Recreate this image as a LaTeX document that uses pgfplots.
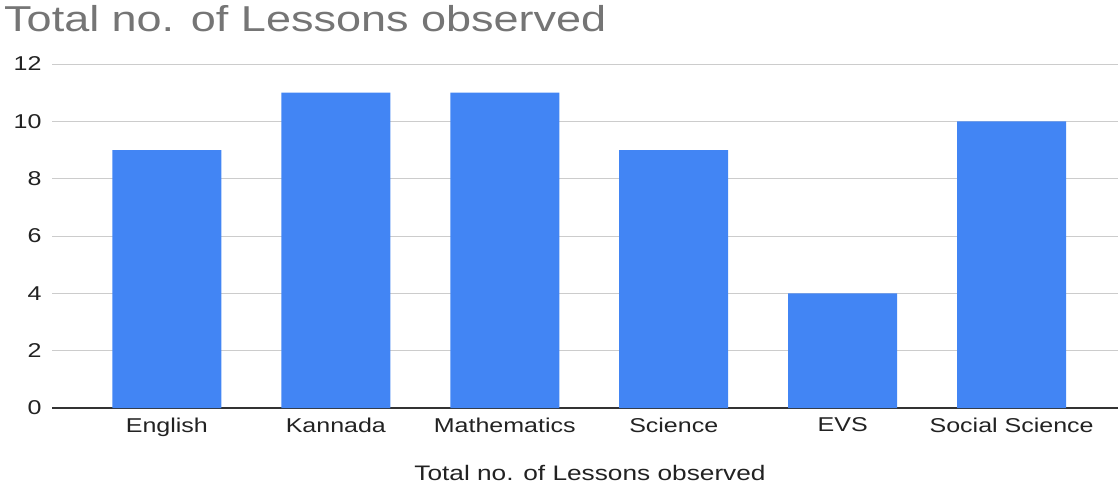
\documentclass[border=0pt]{standalone}
\usepackage{pgfplots}
\pgfplotsset{compat=1.18}
\usepackage{fontspec}
\setmainfont{Liberation Sans}[FakeStretch=1.25]
\definecolor{barblue}{HTML}{4285F4}
\definecolor{titlegray}{HTML}{757575}
\definecolor{gridgray}{HTML}{CCCCCC}
\definecolor{axisdark}{HTML}{333333}
\definecolor{labeldark}{HTML}{222222}
\begin{document}
\begin{tikzpicture}[x=1pt,y=1pt]
\useasboundingbox (0,0) rectangle (1118,488);
\node[anchor=base west, text=titlegray, font=\fontsize{36}{40}\selectfont, inner sep=0pt] at (4,456) {Total no. of Lessons observed};
\begin{axis}[
  at={(52pt,80pt)}, anchor=south west,
  scale only axis, width=1066pt, height=344pt,
  xmin=-0.68, xmax=5.63, ymin=0, ymax=12,
  ytick={0,2,4,6,8,10,12},
  xtick={0,1,2,3,4,5},
  xticklabels={English,Kannada,Mathematics,Science,EVS,Social Science},
  axis lines*=left,
  x axis line style={draw=axisdark, line width=1.2pt, -},
  y axis line style={draw=none},
  ymajorgrids, grid style={draw=gridgray, line width=0.9pt},
  major tick length=0pt,
  tick style={draw=none},
  /pgf/number format/assume math mode=true,
  ticklabel style={font=\fontsize{20}{24}\selectfont, text=labeldark},
  yticklabel style={xshift=-7pt},
  xticklabel style={yshift=-6pt},
  ]
  \addplot[ybar, bar width=0.645, fill=barblue, draw=none] coordinates {
    (0,9) (1,11) (2,11) (3,9) (4,4) (5,10)};
\end{axis}
\node[anchor=base, text=labeldark, font=\fontsize{21}{24}\selectfont, inner sep=0pt] at (590,8) {Total no. of Lessons observed};
\end{tikzpicture}
\end{document}
